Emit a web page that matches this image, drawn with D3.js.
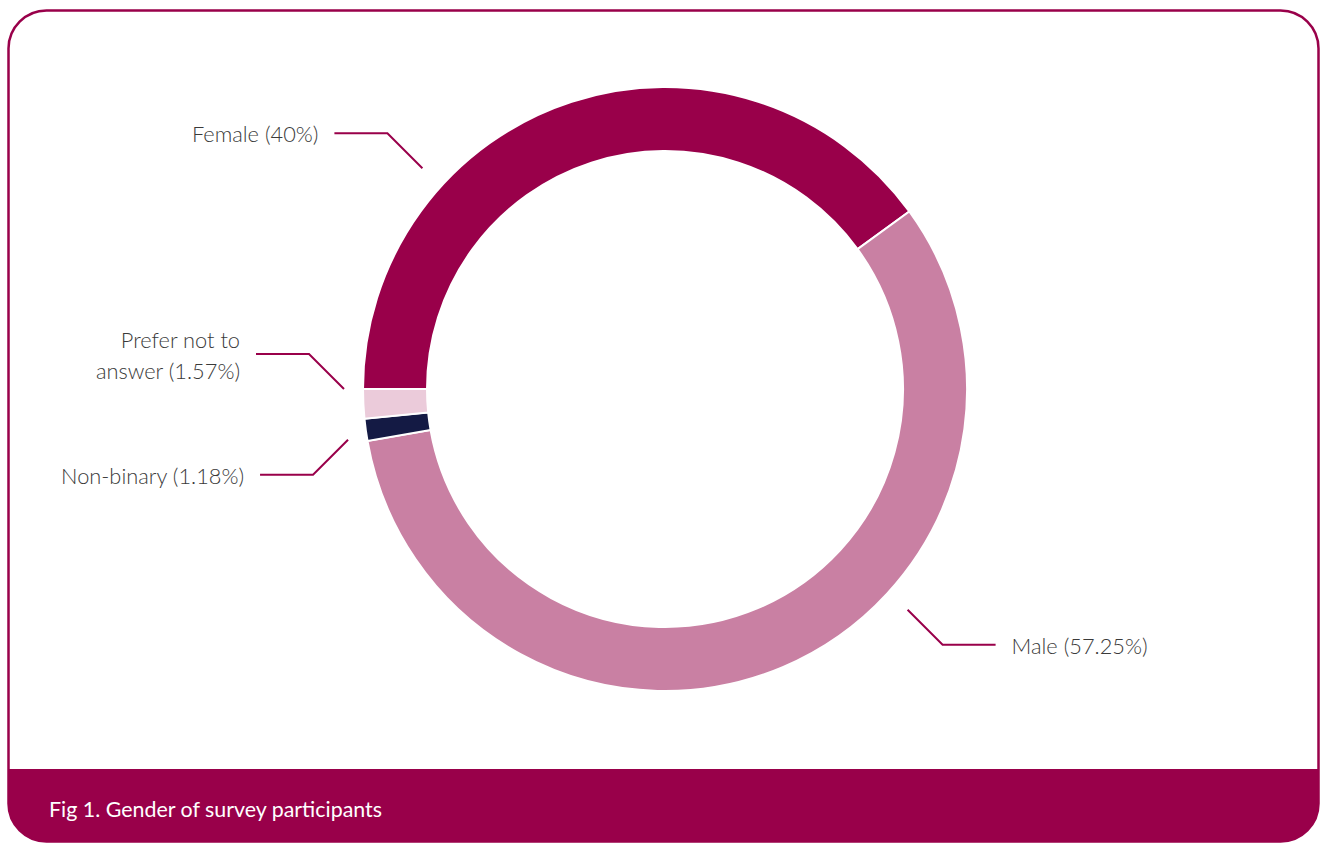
<!DOCTYPE html>
<html>
<head>
<meta charset="utf-8">
<script src="https://cdn.jsdelivr.net/npm/d3@7"></script>
<style>
  html, body { margin: 0; padding: 0; background: #ffffff; }
  svg { display: block; }
</style>
</head>
<body>
<svg id="chart" width="1324" height="844"></svg>
<script>
// Survey data: gender of participants (percent)
const categories = ["Female", "Male", "Non-binary", "Prefer not to answer"];
const shares = [40, 57.25, 1.18, 1.57];
const labelLines = [["Female (40%)"], ["Male (57.25%)"], ["Non-binary (1.18%)"], ["Prefer not to", "answer (1.57%)"]];
const sliceColors = ["#99004a", "#c980a3", "#141a44", "#ebcbda"];
const caption = "Fig 1. Gender of survey participants";

// Where each leader line meets the ring (degrees clockwise from 12 o'clock, gap beyond the ring)
const leaderAngles = [-47.7, 132.3, -99.1, -90];
const leaderGaps = [26, 26, 19, 19];

const W = 1324, H = 844;
const brand = "#99004a";
const svg = d3.select("#chart");

// Frame with rounded corners and caption band
const frame = { x: 8.5, y: 10.5, w: 1310, h: 831, r: 38 };
svg.append("clipPath").attr("id", "frameClip")
  .append("rect").attr("x", frame.x).attr("y", frame.y)
  .attr("width", frame.w).attr("height", frame.h).attr("rx", frame.r);

svg.append("rect")
  .attr("x", 0).attr("y", 769).attr("width", W).attr("height", H - 769)
  .attr("fill", brand).attr("clip-path", "url(#frameClip)");

svg.append("rect").attr("x", frame.x).attr("y", frame.y)
  .attr("width", frame.w).attr("height", frame.h).attr("rx", frame.r)
  .attr("fill", "none").attr("stroke", brand).attr("stroke-width", 2.5);

svg.append("text")
  .attr("x", 49).attr("y", 817)
  .attr("fill", "#ffffff")
  .attr("font-family", "Lato, 'Open Sans', sans-serif")
  .attr("font-size", 21.4)
  .text(caption);

// Donut
const cx = 665, cy = 389;
const outerR = 302, innerR = 238;
const data = categories.map((c, i) => ({
  name: c, value: shares[i], color: sliceColors[i], lines: labelLines[i],
  leader: leaderAngles[i], gap: leaderGaps[i]
}));

const pie = d3.pie().sort(null).value(d => d.value)
  .startAngle(-Math.PI / 2).endAngle(1.5 * Math.PI);
const arc = d3.arc().innerRadius(innerR).outerRadius(outerR);

const g = svg.append("g").attr("transform", `translate(${cx},${cy})`);
g.selectAll("path.slice")
  .data(pie(data))
  .join("path")
  .attr("class", "slice")
  .attr("d", arc)
  .attr("fill", d => d.data.color)
  .attr("stroke", "#ffffff")
  .attr("stroke-width", 2);

// Leader lines and labels
const diag = 35, horiz = 53, textGap = 16;
const toRad = d3.scaleLinear().domain([0, 360]).range([0, 2 * Math.PI]);

data.forEach(d => {
  const a = toRad(d.leader);
  const r = outerR + d.gap;
  const x0 = Math.sin(a) * r;
  const y0 = -Math.cos(a) * r;
  const sx = Math.sin(a) < 0 ? -1 : 1;
  const sy = -Math.cos(a) < 0 ? -1 : 1;
  const x1 = x0 + sx * diag, y1 = y0 + sy * diag;
  const x2 = x1 + sx * horiz;
  g.append("path")
    .attr("d", d3.line()([[x0, y0], [x1, y1], [x2, y1]]))
    .attr("fill", "none").attr("stroke", brand).attr("stroke-width", 2);

  const lh = 31;
  const t = g.append("text")
    .attr("x", x2 + sx * textGap)
    .attr("y", y1 - (d.lines.length - 1) * lh / 2)
    .attr("text-anchor", sx < 0 ? "end" : "start")
    .attr("dominant-baseline", "central")
    .attr("fill", "#3a3a3a")
    .attr("font-family", "Lato, 'Open Sans', sans-serif")
    .attr("font-weight", 300)
    .attr("font-size", 21.8);
  d.lines.forEach((s, i) => {
    t.append("tspan").attr("x", x2 + sx * textGap).attr("dy", i === 0 ? 0 : lh).text(s);
  });
});
</script>
</body>
</html>
